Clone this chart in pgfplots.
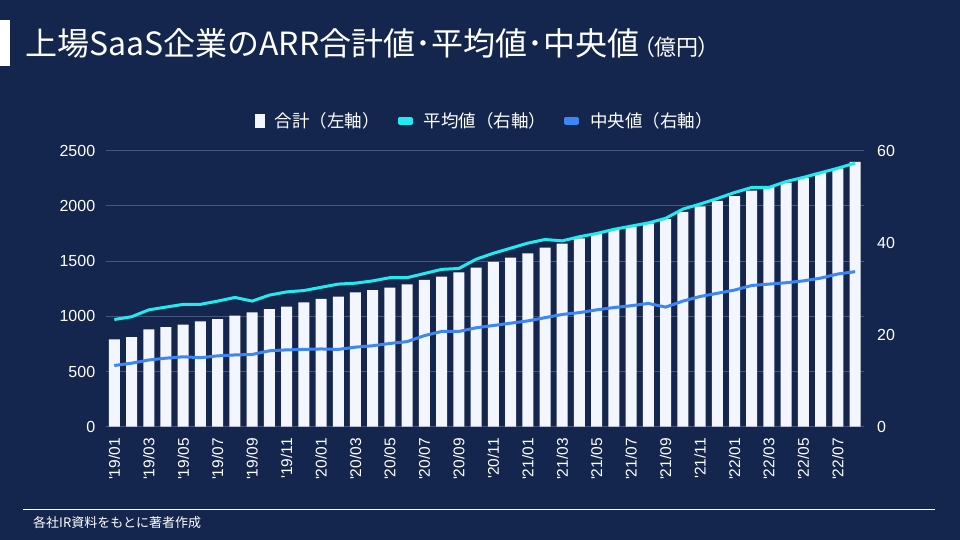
\documentclass[border=0pt]{standalone}
\usepackage{pgfplots}
\pgfplotsset{compat=1.18}
\usepackage{fontspec}
\setmainfont{Liberation Sans}
\newfontfamily\cjk{Noto Sans CJK JP}
\newfontfamily\cjkp{Noto Sans CJK JP}[RawFeature=+palt]
\definecolor{bg}{HTML}{14264D}
\definecolor{cyanc}{HTML}{1FEBF0}
\definecolor{bluec}{HTML}{3D86F5}
\definecolor{barc}{HTML}{F4F6FF}
\definecolor{gridc}{HTML}{46557A}
\pgfplotstableread{
x tot avg med
0 792 23.3 13.3
1 812 23.9 13.8
2 882 25.4 14.5
3 903 26.0 14.9
4 924 26.6 15.2
5 955 26.6 15.0
6 975 27.3 15.4
7 1005 28.1 15.6
8 1036 27.3 15.7
9 1066 28.6 16.5
10 1087 29.3 16.7
11 1127 29.6 16.8
12 1157 30.3 16.9
13 1178 31.0 16.8
14 1217 31.2 17.3
15 1238 31.7 17.6
16 1259 32.4 18.1
17 1290 32.4 18.5
18 1329 33.3 19.8
19 1359 34.2 20.7
20 1398 34.4 20.7
21 1440 36.4 21.5
22 1492 37.7 22.0
23 1531 38.8 22.5
24 1571 39.9 23.0
25 1622 40.7 23.7
26 1658 40.4 24.4
27 1706 41.3 24.8
28 1750 42.0 25.4
29 1785 42.9 25.9
30 1812 43.6 26.3
31 1842 44.3 26.8
32 1880 45.3 26.0
33 1945 47.3 27.3
34 1995 48.4 28.3
35 2046 49.6 29.0
36 2088 50.9 29.7
37 2139 52.0 30.7
38 2169 52.0 31.0
39 2210 53.3 31.3
40 2252 54.2 31.7
41 2298 55.2 32.3
42 2340 56.2 33.2
43 2399 57.3 33.7
}\data
\begin{document}
\begin{tikzpicture}[x=1pt,y=1pt]
\fill[bg] (0,0) rectangle (960,540);
\fill[white] (0,474) rectangle (10,520);
\node[anchor=west, text=white, inner sep=0pt] at (25,497) {\cjk\fontsize{32}{35}\selectfont 上場SaaS企業のARR合計値･平均値･中央値\kern4pt{\cjkp\fontsize{22}{24}\selectfont （億円）}};
\draw[white, line width=1pt] (23,30) -- (935,30);
\node[anchor=west, text=white, inner sep=0pt] at (33,17) {\cjk\fontsize{13}{15}\selectfont 各社IR資料をもとに著者作成};
\begin{axis}[
  at={(105.7pt,113.3pt)}, anchor=south west,
  scale only axis, width=758pt, height=276pt,
  xmin=-0.5, xmax=43.5, ymin=0, ymax=2500,
  ytick={0,500,...,2500},
  xtick={0,2,...,42},
  xticklabels={\textquotesingle19/01,\textquotesingle19/03,\textquotesingle19/05,\textquotesingle19/07,\textquotesingle19/09,\textquotesingle19/11,\textquotesingle20/01,\textquotesingle20/03,\textquotesingle20/05,\textquotesingle20/07,\textquotesingle20/09,\textquotesingle20/11,\textquotesingle21/01,\textquotesingle21/03,\textquotesingle21/05,\textquotesingle21/07,\textquotesingle21/09,\textquotesingle21/11,\textquotesingle22/01,\textquotesingle22/03,\textquotesingle22/05,\textquotesingle22/07},
  x tick label style={rotate=90, anchor=east, font=\fontsize{15.5}{17}\selectfont, text=white},
  y tick label style={font=\fontsize{16}{18}\selectfont, text=white},
  /pgf/number format/assume math mode=true,
  /pgf/number format/1000 sep={},
  axis line style={draw=none},
  major tick length=0pt,
  ymajorgrids, major grid style={gridc, line width=0.8pt},
  xticklabel shift=8pt, yticklabel shift=7pt,
]
\addplot[ybar, bar width=11pt, fill=barc, draw=none] table[x=x,y=tot] {\data};
\end{axis}
\begin{axis}[
  at={(105.7pt,113.3pt)}, anchor=south west,
  scale only axis, width=758pt, height=276pt,
  xmin=-0.5, xmax=43.5, ymin=0, ymax=60,
  ytick={0,20,40,60},
  xtick=\empty,
  axis y line*=right, axis x line=none,
  y axis line style={draw=none},
  y tick label style={font=\fontsize{16}{18}\selectfont, text=white},
  /pgf/number format/assume math mode=true,
  major tick length=0pt,
  yticklabel shift=10pt,
  legend style={at={(0.5,1.109)}, anchor=center, draw=none, fill=none, text=white, font=\cjk\fontsize{17.5}{19}\selectfont,
    /tikz/every odd column/.append style={column sep=9pt},
    /tikz/every even column/.append style={column sep=16pt}},
  legend columns=-1,
]
\addlegendimage{legend image code/.code={\fill[barc] (0pt,-6.5pt) rectangle (9pt,6.5pt);}}
\addlegendentry{合計（左軸）}
\addplot[cyanc, line width=3pt, line join=round, legend image code/.code={\fill[cyanc] (0pt,-2.5pt) rectangle (12pt,2.5pt);}] table[x=x,y=avg] {\data};
\addlegendentry{平均値（右軸）}
\addplot[bluec, line width=3pt, line join=round, legend image code/.code={\fill[bluec] (0pt,-2.5pt) rectangle (12pt,2.5pt);}] table[x=x,y=med] {\data};
\addlegendentry{中央値（右軸）}
\end{axis}
\pgfresetboundingbox
\path (0,0) rectangle (960,540);
\end{tikzpicture}
\end{document}
